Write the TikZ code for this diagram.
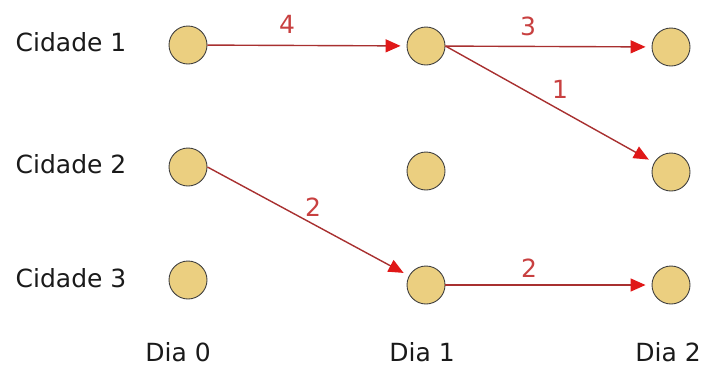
\documentclass[tikz,border=0pt]{standalone}
\usepackage{fontspec}
\setmainfont{DejaVu Sans}
\usetikzlibrary{arrows.meta}
\definecolor{cityfill}{HTML}{EBCF80}
\definecolor{cityline}{HTML}{404040}
\definecolor{edgeline}{HTML}{A83030}
\definecolor{tipred}{HTML}{E01818}
\definecolor{numred}{HTML}{C84040}
\definecolor{txt}{HTML}{1A1A1A}
\tikzset{
  city/.style={circle, fill=cityfill, draw=cityline, line width=0.9pt, minimum size=38pt, inner sep=0pt},
  lbl/.style={font=\fontsize{25}{28}\selectfont, text=txt, inner sep=0pt},
  num/.style={font=\fontsize{25}{28}\selectfont, text=numred, inner sep=0pt},
  edge/.style={draw=edgeline, line width=1.4pt, shorten >=6pt,
    -{Triangle[length=15pt, width=13pt, fill=tipred, color=tipred]}},
}
\begin{document}
\begin{tikzpicture}[x=1pt, y=-1pt]
\useasboundingbox (0,0) rectangle (712,376);
% nodes
\node[city] (a1) at (188,45) {};
\node[city] (b1) at (426,46) {};
\node[city] (c1) at (671,47) {};
\node[city] (a2) at (188,167) {};
\node[city] (b2) at (426,171) {};
\node[city] (c2) at (671,172) {};
\node[city] (a3) at (188,280) {};
\node[city] (b3) at (426,285) {};
\node[city] (c3) at (671,285) {};
% row labels
\node[lbl] (r1) at (71,42) {Cidade 1};
\node[lbl] (r2) at (71,164) {Cidade 2};
\node[lbl] (r3) at (71,278) {Cidade 3};
% column labels
\node[lbl] (d0) at (178,352) {Dia 0};
\node[lbl] (d1) at (422,352) {Dia 1};
\node[lbl] (d2) at (668,352) {Dia 2};
% edges
\draw[edge] (a1) -- (b1);
\draw[edge] (b1) -- (c1);
\draw[edge] (b1.east) -- (c2);
\draw[edge] (a2.east) -- (b3);
\draw[edge] (b3) -- (c3);
% weights
\node[num] (w4) at (287,24) {4};
\node[num] (w3) at (528,26) {3};
\node[num] (w1) at (560,89) {1};
\node[num] (w2a) at (313,207) {2};
\node[num] (w2b) at (529,268) {2};
\end{tikzpicture}
\end{document}
